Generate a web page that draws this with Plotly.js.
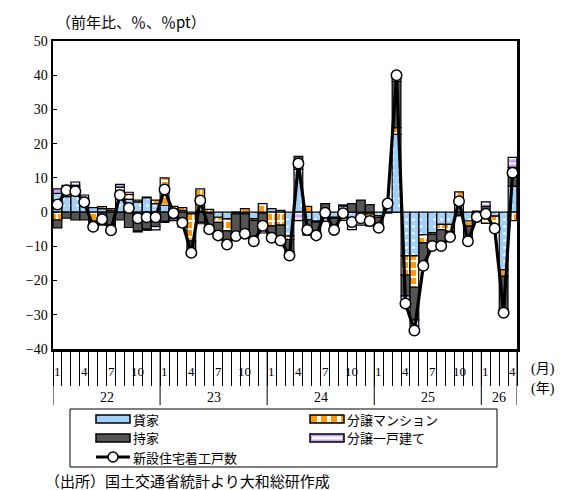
<!DOCTYPE html>
<html>
<head>
<meta charset="utf-8">
<script src="https://cdn.plot.ly/plotly-3.0.1.min.js"></script>
<style>html,body{margin:0;padding:0;background:#fff;}#chart{width:562px;height:490px;}</style>
</head>
<body>
<div id="chart"></div>
<script>
// ---- data (前年比寄与度, %pt) Jan 2022 .. Apr 2026 ----
const seriesNames = ["貸家", "分譲マンション", "持家", "分譲一戸建て", "新設住宅着工戸数"];
const yearLabels = ["22", "23", "24", "25", "26"];
const monthLabels = ["1", "4", "7", "10"];
const monthsInYear = [12, 12, 12, 12, 4];

const kashiya = [5.5, 4.5, 7.5, 3.7, 1.3, 1.0, 0.5, 6.1, 3.7, 3.0, 4.2, 2.5,
  2.0, 1.0, 0.5, -0.5, 0.3, -0.3, -1.5, -2.0, -0.5, -0.5, -1.9, -0.3,
  1.0, 0.5, -7.0, 12.5, -2.2, -2.6, -1.5, -1.5, 1.8, -1.8, -1.5, -0.5,
  -1.0, 1.8, 22.7, -12.8, -12.8, -6.6, -6.0, -3.6, -3.6, 2.0, -2.6, -1.0,
  -0.3, -1.2, -16.8, 7.6];
const bunjoMansion = [-2.3, 2.3, 0.3, 0.3, -2.6, 0.6, 0.5, 1.2, 1.5, 0.5, 0.2, 1.0,
  8.0, 0.7, 0.8, -8.0, 6.5, 0.8, -1.5, -3.5, 0.0, 1.0, -0.5, 2.5,
  -4.0, -3.8, -1.0, 2.5, 1.7, -0.3, 0.5, -0.3, 0.3, -0.8, -0.5, -2.0,
  -0.5, 0.5, 2.0, -5.6, -9.2, -2.4, -0.5, -1.5, -2.0, 3.9, -1.5, 0.3,
  -3.0, -2.5, -2.0, -2.5];
const mochiie = [-2.3, -1.8, -2.3, -2.3, -2.0, -3.5, -3.8, -2.3, -4.5, -5.5, -5.0, -4.2,
  -2.7, -2.0, -3.8, -2.8, -3.0, -4.0, -3.3, -3.5, -5.8, -6.0, -5.5, -5.0,
  -3.5, -3.8, -3.5, 1.3, -3.7, -3.0, 2.0, -2.5, -1.2, 2.5, 3.5, 2.2,
  -2.5, 0.5, 13.5, -6.1, -9.5, -6.2, -3.0, -4.3, -1.3, -0.8, -3.5, -0.5,
  1.7, -0.8, -9.5, 5.5];
const bunjoKodate = [1.3, 1.0, 1.0, 1.0, -0.5, -0.3, -0.5, 0.8, 0.6, -0.3, -0.3, -1.0,
  -0.3, -0.5, -0.5, -0.5, -0.4, -0.5, -0.3, -0.5, -0.6, -0.5, -0.6, -0.8,
  -0.5, -0.6, -1.0, -2.5, -0.8, -0.6, -1.2, -0.7, -1.2, -2.5, -1.8, -1.5,
  -0.6, -0.3, 2.0, -1.0, -1.8, -0.5, -0.4, -0.5, -0.4, -0.3, -0.8, -0.2,
  1.3, -0.3, -0.9, 2.9];
const totalStarts = [2.2, 6.4, 6.1, 2.9, -4.3, -2.1, -5.3, 5.0, 1.2, -1.8, -1.5, -1.5,
  6.6, -0.3, -3.1, -11.9, 3.4, -5.0, -6.8, -9.5, -7.0, -6.3, -8.5, -4.0,
  -7.5, -8.3, -12.7, 14.2, -5.2, -6.8, -0.2, -5.2, -0.3, -2.9, -1.8, -2.6,
  -4.6, 2.5, 40.0, -26.7, -34.6, -15.7, -9.9, -9.9, -7.3, 3.2, -8.5, -1.4,
  -0.5, -4.8, -29.4, 11.5];

// ---- styling ----
const C_BLUE = "#a3d0f7", C_ORANGE = "#ff9a00", C_GRAY = "#555555", C_PURPLE = "#cba6f2";
const SERIF = "Liberation Serif, DejaVu Serif, Noto Sans CJK JP, serif";
const JP = "Noto Sans CJK JP, sans-serif";

const n = totalStarts.length;
const xs = Array.from({length: n}, (_, i) => i);

const outline = {color: "#000", width: 1.2};
const traces = [
  {type: "bar", name: seriesNames[0], x: xs, y: kashiya,
   marker: {color: C_BLUE, line: outline,
     pattern: {shape: ".", fillmode: "replace", bgcolor: C_BLUE, fgcolor: "#ffffff", size: 7, solidity: 0.12}}},
  {type: "bar", name: seriesNames[1], x: xs, y: bunjoMansion,
   marker: {color: C_ORANGE, line: outline,
     pattern: {shape: "+", fillmode: "replace", bgcolor: C_ORANGE, fgcolor: "#ffffff", size: 8, solidity: 0.4}}},
  {type: "bar", name: seriesNames[2], x: xs, y: mochiie,
   marker: {color: C_GRAY, line: outline}},
  {type: "bar", name: seriesNames[3], x: xs, y: bunjoKodate,
   marker: {color: C_PURPLE, line: outline,
     pattern: {shape: "-", fillmode: "replace", bgcolor: C_PURPLE, fgcolor: "#ffffff", size: 5, solidity: 0.35}}},
  {type: "scatter", mode: "lines+markers", name: seriesNames[4], x: xs, y: totalStarts,
   line: {color: "#000", width: 3.2},
   marker: {size: 10.5, color: "#fff", line: {color: "#000", width: 1.5}}}
];
traces.forEach(t => t.showlegend = false);

// ---- geometry helpers (pixel -> paper) ----
const W = 562, H = 490, ML = 53, MR = 45, MT = 41, MB = 141;
const PW = W - ML - MR, PH = H - MT - MB;
const px = p => (p - ML) / PW;
const py = p => (H - MB - p) / PH;

const shapes = [];
const annotations = [];

// month tick boundaries & labels, year separators & labels
const tickBounds = [];
for (let i = 0; i <= n; i++) tickBounds.push(i - 0.5);
let start = 0;
monthsInYear.forEach((cnt, yi) => {
  for (let m = 0; m < cnt; m++) {
    const lbl = String(m + 1);
    if (monthLabels.includes(lbl)) {
      annotations.push({x: start + m, xref: "x", y: py(371), yref: "paper", text: lbl,
        showarrow: false, xanchor: "center", yanchor: "middle",
        font: {family: SERIF, size: 13, color: "#000"}});
    }
  }
  shapes.push({type: "line", xref: "x", yref: "paper", x0: start - 0.5, x1: start - 0.5,
    y0: py(349), y1: py(405), line: {color: "#000", width: 1}});
  annotations.push({x: start + (cnt - 1) / 2, xref: "x", y: py(397), yref: "paper", text: yearLabels[yi],
    showarrow: false, xanchor: "center", yanchor: "middle",
    font: {family: SERIF, size: 14, color: "#000"}});
  start += cnt;
});
shapes.push({type: "line", xref: "x", yref: "paper", x0: start - 0.5, x1: start - 0.5,
  y0: py(349), y1: py(405), line: {color: "#000", width: 1}});

annotations.push({x: px(529), xref: "paper", y: py(369), yref: "paper", text: "(月)", showarrow: false,
  xanchor: "left", yanchor: "middle", font: {family: SERIF, size: 14, color: "#000"}});
annotations.push({x: px(529), xref: "paper", y: py(389), yref: "paper", text: "(年)", showarrow: false,
  xanchor: "left", yanchor: "middle", font: {family: SERIF, size: 14, color: "#000"}});

// title (unit) and source
annotations.push({x: px(54), xref: "paper", y: py(22), yref: "paper", text: "（前年比、％、％pt）", showarrow: false,
  xanchor: "left", yanchor: "middle", font: {family: JP, size: 15, color: "#000"}});
annotations.push({x: px(43), xref: "paper", y: py(480), yref: "paper", text: "（出所）国土交通省統計より大和総研作成", showarrow: false,
  xanchor: "left", yanchor: "middle", font: {family: JP, size: 15, color: "#000"}});

// ---- legend (drawn) ----
const LFS = 13, LSP = 19;
const row1 = 419, row2 = row1 + LSP, row3 = row1 + 2 * LSP;
const rect = (x0, y0, x1, y1, fill, lw) => ({type: "rect", xref: "paper", yref: "paper",
  x0: px(x0), x1: px(x1), y0: py(y1), y1: py(y0), fillcolor: fill, line: {color: "#000", width: lw}});
shapes.push(rect(70, 409, 497, 467, "rgba(0,0,0,0)", 1));
shapes.push(rect(96, row1 - 4, 130, row1 + 4, C_BLUE, 1.5));
shapes.push(rect(310, row1 - 4, 344, row1 + 4, C_ORANGE, 1.5));
[[317, 321], [327, 331], [337, 341]].forEach(s => shapes.push({type: "rect", xref: "paper", yref: "paper",
  x0: px(s[0]), x1: px(s[1]), y0: py(row1 + 3), y1: py(row1 - 3), fillcolor: "#fff", line: {width: 0}}));
shapes.push(rect(96, row2 - 4, 130, row2 + 4, C_GRAY, 1.5));
shapes.push(rect(310, row2 - 4, 344, row2 + 4, C_PURPLE, 1.5));
shapes.push({type: "rect", xref: "paper", yref: "paper", x0: px(312), x1: px(342), y0: py(row2 + 1.5), y1: py(row2 - 1.5),
  fillcolor: "#fff", line: {width: 0}});
shapes.push({type: "line", xref: "paper", yref: "paper", x0: px(96), x1: px(130), y0: py(row3), y1: py(row3),
  line: {color: "#000", width: 3}});
shapes.push({type: "circle", xref: "paper", yref: "paper", x0: px(108), x1: px(118), y0: py(row3 + 5), y1: py(row3 - 5),
  fillcolor: "#fff", line: {color: "#000", width: 1.5}});
const legText = [[132, row1, 0], [346, row1, 1], [132, row2, 2], [346, row2, 3], [132, row3, 4]];
legText.forEach(t => annotations.push({x: px(t[0]), xref: "paper", y: py(t[1]), yref: "paper",
  text: seriesNames[t[2]], showarrow: false, xanchor: "left", yanchor: "middle", borderpad: 0,
  font: {family: JP, size: LFS, color: "#000"}}));

const layout = {
  width: W, height: H,
  margin: {l: ML, r: MR, t: MT, b: MB, pad: 0},
  paper_bgcolor: "#fff", plot_bgcolor: "#fff",
  barmode: "relative", bargap: 0.02,
  showlegend: false,
  xaxis: {range: [-0.5, n - 0.5], tickmode: "array", tickvals: tickBounds, ticks: "outside",
    ticklen: 34, tickwidth: 1, tickcolor: "#000", showticklabels: false,
    showline: true, mirror: true, linecolor: "#000", linewidth: 2.5, showgrid: false, zeroline: false, fixedrange: true},
  yaxis: {range: [-40, 50], dtick: 10, tick0: 0, ticks: "inside", ticklen: 4, tickcolor: "#000",
    showline: true, mirror: true, linecolor: "#000", linewidth: 2.5, showgrid: false,
    zeroline: true, zerolinecolor: "#000", zerolinewidth: 1.2,
    tickfont: {family: SERIF, size: 14, color: "#000"}, fixedrange: true},
  shapes: shapes,
  annotations: annotations
};

Plotly.newPlot("chart", traces, layout, {displayModeBar: false, staticPlot: true});
</script>
</body>
</html>
